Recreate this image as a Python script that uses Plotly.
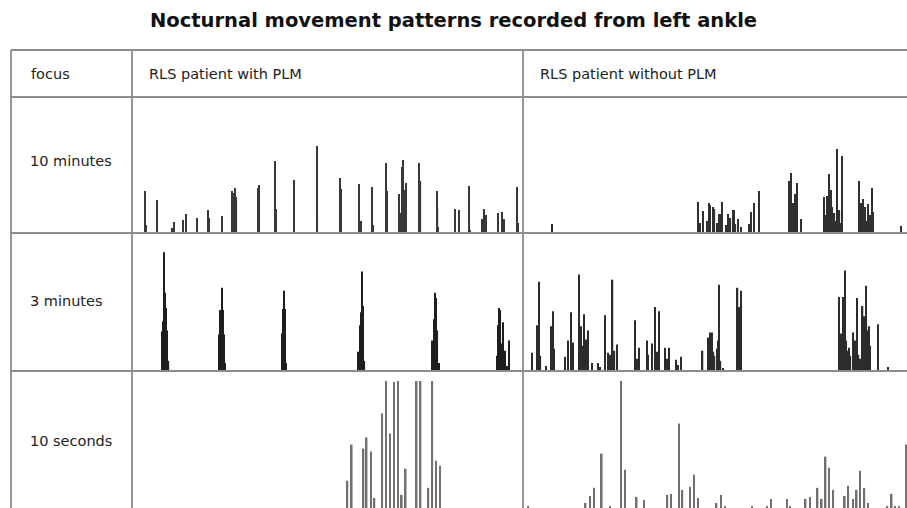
import plotly.graph_objects as go

# ---------------- data (time in seconds, amplitude in arbitrary units) ----------------
# Row "10 minutes"
t10_plm = [19.5, 20.5, 21.5, 37.9, 38.8, 60.9, 64.5, 77.8, 82.4, 99.3, 100.2, 117.1, 118.0, 138.6,
           153.0, 154.5, 155.8, 157.0, 158.5, 160.3, 192.9, 194.9, 219.4, 220.5, 248.6, 283.4, 284.5,
           319.2, 320.3, 348.8, 351.4, 368.7, 369.8, 389.8, 391.0, 409.3, 411.5, 413.8, 415.8, 418.1,
           420.5, 440.4, 442.7, 467.6, 468.8, 470.0, 495.6, 502.2, 517.1, 518.3, 536.6, 540.1, 542.8,
           562.1, 568.2, 570.8, 591.2, 592.3]
a10_plm = [42, 26, 8, 33, 7, 5, 11, 13, 19, 15, 7, 23, 15, 17,
           42, 20, 40, 36, 45, 36, 45, 48, 72, 24, 53, 87, 21,
           55, 44, 49, 12, 46, 8, 70, 42, 39, 20, 66, 73, 43,
           50, 70, 52, 42, 26, 6, 24, 23, 47, 3, 14, 24, 18,
           20, 21, 14, 46, 10]

t10_nopm = [44.8, 273.9, 281.7, 291.1, 292.2, 296.4, 299.2, 306.7, 307.8, 311.4, 320.8, 324.2, 327.7,
            329.7, 335.5, 340.6, 353.6, 356.3, 360.9, 369.2, 416.1, 418.3, 421.9, 425.0, 428.6, 433.9,
            470.8, 474.5, 478.1, 480.8, 483.3, 486.7, 491.1, 494.5, 498.9, 525.5, 528.9, 531.7, 534.4,
            538.6, 542.2, 545.8, 547.3, 590.2,
            276.0, 287.0, 303.0, 318.0, 332.0, 420.0, 423.5, 427.0, 472.5, 476.0, 485.0, 489.0, 496.5,
            527.0, 533.0, 537.0, 544.0]
a10_nopm = [9, 31, 22, 30, 28, 26, 24, 19, 19, 31, 19, 15, 23,
            23, 14, 6, 9, 21, 30, 42, 52, 60, 30, 39, 50, 14,
            36, 37, 59, 43, 26, 20, 84, 23, 77, 52, 30, 34, 26,
            29, 18, 45, 21, 7,
            10, 12, 10, 8, 9, 20, 15, 25, 18, 22, 15, 12, 10,
            15, 18, 12, 14]

# Row "3 minutes"
t3_plm = [14.0, 14.5, 14.9, 15.3, 15.7, 16.1, 16.8, 40.1, 40.7, 41.3, 41.8, 42.4, 42.8,
          69.1, 69.5, 69.9, 70.4, 70.9, 104.3, 105.0, 105.4, 106.0, 106.5, 107.0,
          138.4, 139.1, 139.5, 140.1, 140.6, 141.3, 167.9, 168.5, 169.0, 169.6, 170.0,
          170.9, 171.7, 172.7, 173.6]
a3_plm = [39, 49, 117, 77, 62, 40, 10, 36, 60, 82, 60, 36, 8,
          37, 61, 79, 61, 8, 19, 45, 58, 98, 64, 10,
          30, 51, 77, 72, 40, 8, 15, 45, 62, 60, 27,
          48, 20, 5, 30]

t3_nopm = [4.1, 6.7, 7.5, 8.2, 10.8, 13.0, 13.9, 14.5, 19.7, 21.2, 22.5, 23.4, 26.4, 27.2, 28.6,
           29.4, 30.6, 32.5, 35.3, 36.1, 38.4, 40.0, 41.0, 42.0, 42.9, 43.9, 52.5, 53.4, 54.4,
           58.0, 58.7, 60.3, 61.9, 62.7, 63.8, 66.6, 67.5, 68.4, 71.6, 72.7, 73.9, 84.2, 86.9,
           87.7, 88.5, 89.3, 90.8, 91.5, 92.0, 92.6, 93.6, 100.6, 101.4, 102.2, 148.3, 149.1,
           150.1, 150.9, 151.6, 152.8, 154.9, 156.4, 157.3, 159.2, 160.0, 160.8, 161.5, 162.3,
           166.3, 171.0,
           7.0, 27.8, 29.9, 87.2, 89.8, 91.2, 101.0, 149.5, 150.5, 152.0, 153.5, 155.5, 158.0,
           159.8, 161.0, 162.8]
a3_nopm = [18, 45, 88, 15, 5, 44, 59, 22, 14, 30, 58, 28, 95, 44, 56,
           31, 40, 8, 8, 4, 55, 18, 16, 90, 20, 26, 50, 12, 23,
           30, 16, 27, 63, 19, 59, 23, 12, 23, 11, 6, 14, 20, 33,
           38, 38, 19, 21, 30, 85, 10, 3, 82, 63, 79, 73, 37,
           73, 99, 30, 23, 38, 72, 16, 64, 54, 84, 40, 44,
           46, 4,
           30, 25, 20, 20, 15, 22, 60, 28, 45, 20, 15, 30, 12,
           35, 50, 25]

# Row "10 seconds"
ts_plm = [5.51, 5.62, 5.92, 6.00, 6.11, 6.20, 6.40, 6.50, 6.60, 6.70, 6.80, 6.90, 7.00,
          7.28, 7.38, 7.58, 7.68, 7.78, 7.88]
as_plm = [27, 63, 59, 70, 56, 10, 94, 126, 74, 125, 126, 13, 39,
          126, 126, 20, 126, 47, 42]

ts_nopm = [0.14, 1.63, 1.74, 1.85, 2.05, 2.27, 2.55, 2.66, 2.96, 3.15, 3.76, 3.85, 4.06, 4.15,
           4.35, 4.45, 4.56, 5.04, 5.16, 5.26, 5.97, 6.36, 6.46, 6.87, 6.95, 7.36, 7.47, 7.67,
           7.78, 7.88, 7.97, 8.08, 8.38, 8.47, 8.59, 8.69, 8.78, 8.89, 8.98, 9.49, 9.60, 9.69,
           9.79, 9.97]
as_nopm = [2, 5, 12, 20, 54, 2, 126, 38, 11, 8, 13, 14, 84, 18,
           21, 33, 10, 5, 13, 2, 2, 2, 9, 9, 2, 9, 11, 20,
           9, 51, 40, 18, 12, 22, 9, 18, 37, 20, 5, 2, 14, 2,
           2, 63]

columns = ["RLS patient with PLM", "RLS patient without PLM"]
rows = ["10 minutes", "3 minutes", "10 seconds"]
windows = [600, 180, 10]  # seconds shown per row
title = "Nocturnal movement patterns recorded from left ankle"

# ---------------- layout geometry (pixels of the 907x508 page) ----------------
W, H = 907, 508
left_px = 11
col_px = [132, 523, 907]
top_px = 50
row_px = [97, 233, 371, 508]
AMP_MAX = 136

def px(x):
    return x / W

def py(y):
    return 1 - y / H

series = [
    (t10_plm, a10_plm, 2.0, "#383838"), (t10_nopm, a10_nopm, 2.0, "#303030"),
    (t3_plm, a3_plm, 0.6, "#1e1e1e"), (t3_nopm, a3_nopm, 0.6, "#2c2c2c"),
    (ts_plm, as_plm, 0.042, "#707070"), (ts_nopm, as_nopm, 0.042, "#707070"),
]

fig = go.Figure()
layout_axes = {}
for i, (t, a, bw, col) in enumerate(series):
    r, c = divmod(i, 2)
    n = i + 1
    xa = "x" if n == 1 else f"x{n}"
    ya = "y" if n == 1 else f"y{n}"
    fig.add_trace(go.Bar(x=t, y=a, width=bw, marker=dict(color=col, line=dict(width=0)),
                         xaxis=xa, yaxis=ya, hoverinfo="x+y"))
    xk = "xaxis" if n == 1 else f"xaxis{n}"
    yk = "yaxis" if n == 1 else f"yaxis{n}"
    layout_axes[xk] = dict(domain=[px(col_px[c]), px(col_px[c + 1])], range=[0, windows[r]],
                           visible=False, anchor=ya, fixedrange=True)
    layout_axes[yk] = dict(domain=[py(row_px[r + 1]), py(row_px[r])], range=[0, AMP_MAX],
                           visible=False, anchor=xa, fixedrange=True)

LINE = dict(color="#8c8c8c", width=1.8)
shapes = []
# horizontal lines
for y in [top_px] + row_px[:3]:
    shapes.append(dict(type="line", xref="paper", yref="paper", x0=px(left_px), x1=1,
                       y0=py(y), y1=py(y), line=LINE))
# vertical lines
for x in [left_px] + col_px[:2]:
    shapes.append(dict(type="line", xref="paper", yref="paper", x0=px(x), x1=px(x),
                       y0=py(top_px), y1=0, line=LINE))

FONT = "DejaVu Sans, Verdana, sans-serif"
ann = [dict(text=f"<b>{title}</b>", x=0.5, y=py(20), xref="paper", yref="paper",
            showarrow=False, xanchor="center", yanchor="middle",
            font=dict(family=FONT, size=19.5, color="#111"))]
ann.append(dict(text="focus", x=px(29), y=py(74), xref="paper", yref="paper", showarrow=False,
                xanchor="left", yanchor="middle", font=dict(family=FONT, size=14.5, color="#222")))
for c, name in enumerate(columns):
    ann.append(dict(text=name, x=px(col_px[c] + 15), y=py(74), xref="paper", yref="paper",
                    showarrow=False, xanchor="left", yanchor="middle",
                    font=dict(family=FONT, size=14.5, color="#222")))
for r, name in enumerate(rows):
    ann.append(dict(text=name, x=px(28), y=py([161, 301, 441][r]), xref="paper", yref="paper",
                    showarrow=False, xanchor="left", yanchor="middle",
                    font=dict(family=FONT, size=14.5, color="#222")))

fig.update_layout(width=W, height=H, margin=dict(l=0, r=0, t=0, b=0),
                  paper_bgcolor="white", plot_bgcolor="rgba(0,0,0,0)",
                  showlegend=False, barmode="overlay", shapes=shapes, annotations=ann,
                  **layout_axes)

fig.write_html("out.html")
